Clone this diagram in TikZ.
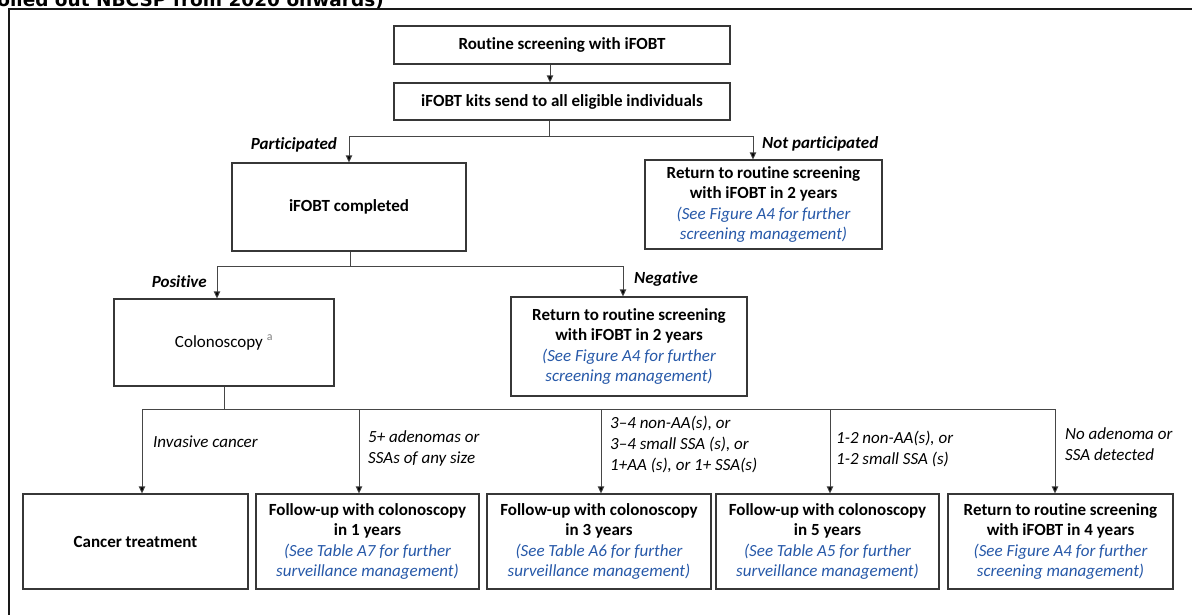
\documentclass[tikz,border=0pt]{standalone}
\usepackage{fontspec}
\setmainfont{Carlito}[Ligatures=NoCommon]
\newfontfamily\titlefont{DejaVu Sans}
\usetikzlibrary{arrows.meta}
\definecolor{refblue}{RGB}{38,88,168}
\definecolor{boxline}{RGB}{55,55,55}
\definecolor{linkline}{RGB}{70,70,70}
\definecolor{framecol}{RGB}{25,25,25}
\newcommand{\seeref}[1]{\textcolor{refblue}{\mdseries\itshape #1}}
\begin{document}
\begin{tikzpicture}[x=1pt,y=-1pt,
  box/.style={draw=boxline,line width=1.2pt,align=center,inner sep=0pt,
    font=\fontsize{17}{20.6}\selectfont\bfseries},
  lbl/.style={font=\fontsize{17}{21}\selectfont\itshape,align=left,inner sep=0pt},
  blbl/.style={lbl,font=\fontsize{17}{21}\selectfont\bfseries\itshape},
  link/.style={draw=linkline,line width=0.9pt},
  arr/.style={link,-{Triangle[length=7pt,width=6.5pt,fill=black]}},
  frame/.style={draw=framecol,line width=2pt}]
\useasboundingbox (0,0) rectangle (1192,614);

% heading of the page, cut by the top edge
\begin{scope}
  \clip (0,0) rectangle (1192,8);
  \node[anchor=base east,inner sep=0pt,
    font=\titlefont\bfseries\fontsize{18.5}{22}\selectfont] (title) at (384,6)
    {rolled out NBCSP from 2020 onwards)};
\end{scope}

% outer frame
\draw[frame] (8.5,8.5) rectangle (1240,660);

% boxes
\node[box,minimum width=336pt,minimum height=38pt] (A) at (562,45) {Routine screening with iFOBT};
\node[box,minimum width=336pt,minimum height=37pt] (B) at (562,101.5) {iFOBT kits send to all eligible individuals};
\node[box,minimum width=234pt,minimum height=88pt] (C) at (349,207) {iFOBT completed};
\node[box,minimum width=237pt,minimum height=89pt] (D) at (763.5,204.5)
  {Return to routine screening\\with iFOBT in 2 years\\\seeref{(See Figure A4 for further}\\\seeref{screening management)}};
\node[box,minimum width=220pt,minimum height=87pt,font=\fontsize{17}{20.6}\selectfont] (F) at (224,342.5)
  {Colonoscopy \textcolor{gray}{\textsuperscript{a}}};
\node[box,minimum width=236pt,minimum height=99pt] (E) at (629,346.5)
  {Return to routine screening\\with iFOBT in 2 years\\\seeref{(See Figure A4 for further}\\\seeref{screening management)}};

\node[box,minimum width=225pt,minimum height=95pt] (G) at (135.5,541.5) {Cancer treatment};
\node[box,minimum width=223pt,minimum height=95pt] (H) at (367.5,541.5)
  {Follow-up with colonoscopy\\in 1 years\\\seeref{(See Table A7 for further}\\\seeref{surveillance management)}};
\node[box,minimum width=224pt,minimum height=95pt] (I) at (599,541.5)
  {Follow-up with colonoscopy\\in 3 years\\\seeref{(See Table A6 for further}\\\seeref{surveillance management)}};
\node[box,minimum width=223pt,minimum height=95pt] (J) at (827.5,541.5)
  {Follow-up with colonoscopy\\in 5 years\\\seeref{(See Table A5 for further}\\\seeref{surveillance management)}};
\node[box,minimum width=225pt,minimum height=95pt] (K) at (1060.5,541.5)
  {Return to routine screening\\with iFOBT in 4 years\\\seeref{(See Figure A4 for further}\\\seeref{screening management)}};

% bus points
\coordinate (jA) at (550,45);
\coordinate (jB) at (549,136);
\coordinate (pC) at (349,136);
\coordinate (pD) at (753,136);
\coordinate (jC) at (350,266);
\coordinate (pF) at (217,266);
\coordinate (pE) at (623,266);
\coordinate (jF) at (224,409);
\coordinate (p1) at (142,409);
\coordinate (p2) at (359,409);
\coordinate (p3) at (601,409);
\coordinate (p4) at (830,409);
\coordinate (p5) at (1055,409);

% connectors
\draw[arr] (A.south -| jA) -- (B.north -| jA);
\draw[link] (B.south -| jB) -- (jB);
\draw[arr] (jB) -- (pC) -- (pC |- C.north);
\draw[arr] (jB) -- (pD) -- (pD |- D.north);
\draw[link] (C.south -| jC) -- (jC);
\draw[arr] (jC) -- (pF) -- (pF |- F.north);
\draw[arr] (jC) -- (pE) -- (pE |- E.north);
\draw[link] (F.south -| jF) -- (jF);
\draw[link] (p1) -- (p5);
\draw[arr] (p1) -- (p1 |- G.north);
\draw[arr] (p2) -- (p2 |- H.north);
\draw[arr] (p3) -- (p3 |- I.north);
\draw[arr] (p4) -- (p4 |- J.north);
\draw[arr] (p5) -- (p5 |- K.north);

% branch labels
\node[blbl,anchor=east] (lPart) at (337,145) {Participated};
\node[blbl,anchor=west] (lNot) at (762,144) {Not participated};
\node[blbl,anchor=east] (lPos) at (207,282) {Positive};
\node[blbl,anchor=west] (lNeg) at (634,279) {Negative};
\node[lbl,anchor=west] (lInv) at (153,442) {Invasive cancer};
\node[lbl,anchor=north west] (l5) at (368,430) {5+ adenomas or\\SSAs of any size};
\node[lbl,anchor=north west] (l34) at (610,416) {3–4 non-AA(s), or\\3–4 small SSA (s), or\\1+AA (s), or 1+ SSA(s)};
\node[lbl,anchor=north west] (l12) at (836,431) {1-2 non-AA(s), or\\1-2 small SSA (s)};
\node[lbl,anchor=north west] (lNo) at (1065,427) {No adenoma or\\SSA detected};
\end{tikzpicture}
\end{document}
